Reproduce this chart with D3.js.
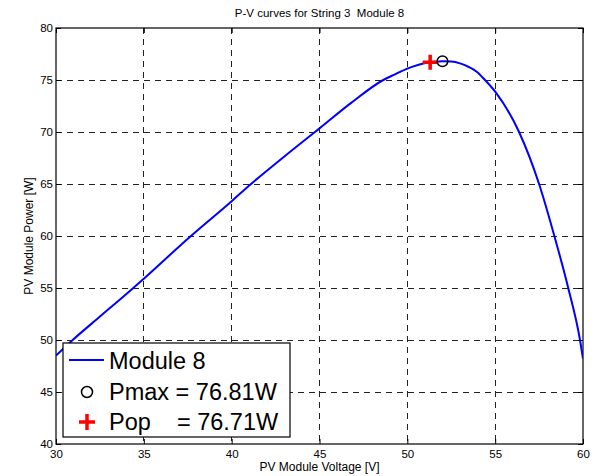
<!DOCTYPE html>
<html>
<head>
<meta charset="utf-8">
<script src="https://cdn.jsdelivr.net/npm/d3@7"></script>
<style>
  body { margin: 0; background: #fff; }
  text { font-family: "Liberation Sans", Arial, sans-serif; }
</style>
</head>
<body>
<div id="chart"></div>
<script>
// P-V curve, String 3 Module 8
const voltage = [30, 30.95, 32.5, 34.4, 35, 37.68, 40, 41.1, 43, 44.74, 45, 46.8, 48.63, 49.3,
  50, 50.6, 51.1, 52, 52.5, 53, 53.5, 53.95, 54.42, 55, 56.36, 57.5, 58.37, 59.16, 59.83, 60];
const power = [48.5, 50, 52.25, 55, 55.9, 60, 63.35, 65, 67.65, 70, 70.35, 72.8, 75, 75.55,
  76.1, 76.45, 76.65, 76.81, 76.78, 76.6, 76.25, 75.8, 75, 73.88, 70, 65, 60, 55, 50, 48.2];

const pmax = {v: 52.0, p: 76.81};
const pop = {v: 51.3, p: 76.71};

const xTicks = [30, 35, 40, 45, 50, 55, 60];
const yTicks = [40, 45, 50, 55, 60, 65, 70, 75, 80];
const legendLabels = ["Module 8", "Pmax = 76.81W", "Pop    = 76.71W"];

const width = 594, height = 476;
const margin = {top: 28, right: 11, bottom: 32, left: 56};

const x = d3.scaleLinear().domain([30, 60]).range([margin.left, width - margin.right]);
const y = d3.scaleLinear().domain([40, 80]).range([height - margin.bottom, margin.top]);

const svg = d3.select("#chart").append("svg")
  .attr("width", width).attr("height", height);

// clip for the curve
svg.append("clipPath").attr("id", "clip").append("rect")
  .attr("x", x(30)).attr("y", y(80))
  .attr("width", x(60) - x(30)).attr("height", y(40) - y(80));

// grid
const grid = svg.append("g").attr("stroke", "#222").attr("stroke-dasharray", "6,5")
  .attr("shape-rendering", "crispEdges");
grid.selectAll(".gx").data(xTicks.slice(1, -1)).join("line")
  .attr("x1", d => x(d)).attr("x2", d => x(d))
  .attr("y1", y(80)).attr("y2", y(40));
grid.selectAll(".gy").data(yTicks.slice(1, -1)).join("line")
  .attr("x1", x(30)).attr("x2", x(60))
  .attr("y1", d => y(d)).attr("y2", d => y(d));

// axes (ticks inward)
svg.append("g").attr("transform", `translate(0,${y(40)})`)
  .call(d3.axisBottom(x).tickValues(xTicks).tickSize(-5).tickPadding(6))
  .call(g => g.select(".domain").remove());
svg.append("g").attr("transform", `translate(0,${y(80)})`)
  .call(d3.axisTop(x).tickValues(xTicks).tickSize(-5).tickFormat(""))
  .call(g => g.select(".domain").remove());
svg.append("g").attr("transform", `translate(${x(30)},0)`)
  .call(d3.axisLeft(y).tickValues(yTicks).tickSize(-5).tickPadding(3))
  .call(g => g.select(".domain").remove());
svg.append("g").attr("transform", `translate(${x(60)},0)`)
  .call(d3.axisRight(y).tickValues(yTicks).tickSize(-5).tickFormat(""))
  .call(g => g.select(".domain").remove());
svg.selectAll(".tick text").attr("font-size", 11.5).attr("fill", "#000")
  .attr("font-family", "Liberation Sans, Arial, sans-serif");
svg.selectAll(".tick line").attr("stroke", "#000");

// box
svg.append("rect")
  .attr("x", x(30)).attr("y", y(80))
  .attr("width", x(60) - x(30)).attr("height", y(40) - y(80))
  .attr("fill", "none").attr("stroke", "#000").attr("stroke-width", 1.2);

// curve
const pts = voltage.map((v, i) => ({v: v, p: power[i]}));
const line = d3.line().x(d => x(d.v)).y(d => y(d.p)).curve(d3.curveMonotoneX);
svg.append("path").datum(pts)
  .attr("clip-path", "url(#clip)")
  .attr("fill", "none").attr("stroke", "#0000ff").attr("stroke-width", 2)
  .attr("d", line);

// markers
function cross(g, cx, cy, s) {
  g.append("path")
    .attr("d", `M${cx - s},${cy}H${cx + s}M${cx},${cy - s}V${cy + s}`)
    .attr("stroke", "#ff0000").attr("stroke-width", 3.5).attr("fill", "none");
}
cross(svg, x(pop.v), y(pop.p), 7.5);
svg.append("circle").attr("cx", x(pmax.v)).attr("cy", y(pmax.p)).attr("r", 5.3)
  .attr("fill", "none").attr("stroke", "#000").attr("stroke-width", 1.5);

// title and labels
svg.append("text").attr("x", (x(30) + x(60)) / 2).attr("y", 17)
  .attr("text-anchor", "middle").attr("font-size", 11.5)
  .style("white-space", "pre")
  .text("P-V curves for String 3  Module 8");
svg.append("text").attr("x", (x(30) + x(60)) / 2).attr("y", 471)
  .attr("text-anchor", "middle").attr("font-size", 12)
  .text("PV Module Voltage [V]");
svg.append("text").attr("transform", `translate(33,${(y(40) + y(80)) / 2}) rotate(-90)`)
  .attr("text-anchor", "middle").attr("font-size", 12)
  .text("PV Module Power [W]");

// legend
const lg = svg.append("g");
lg.append("rect").attr("x", 63).attr("y", 343).attr("width", 227).attr("height", 94)
  .attr("fill", "#fff").attr("stroke", "#000").attr("stroke-width", 1.2);
lg.append("line").attr("x1", 69).attr("x2", 104).attr("y1", 360).attr("y2", 360)
  .attr("stroke", "#0000ff").attr("stroke-width", 2);
lg.append("circle").attr("cx", 87).attr("cy", 392).attr("r", 5.5)
  .attr("fill", "none").attr("stroke", "#000").attr("stroke-width", 1.5);
cross(lg, 87, 422, 8);
lg.selectAll("text.lab").data(legendLabels).join("text")
  .attr("x", 109).attr("y", (d, i) => 369 + i * 30.5)
  .attr("font-size", 23.5).style("white-space", "pre")
  .text(d => d);
</script>
</body>
</html>
